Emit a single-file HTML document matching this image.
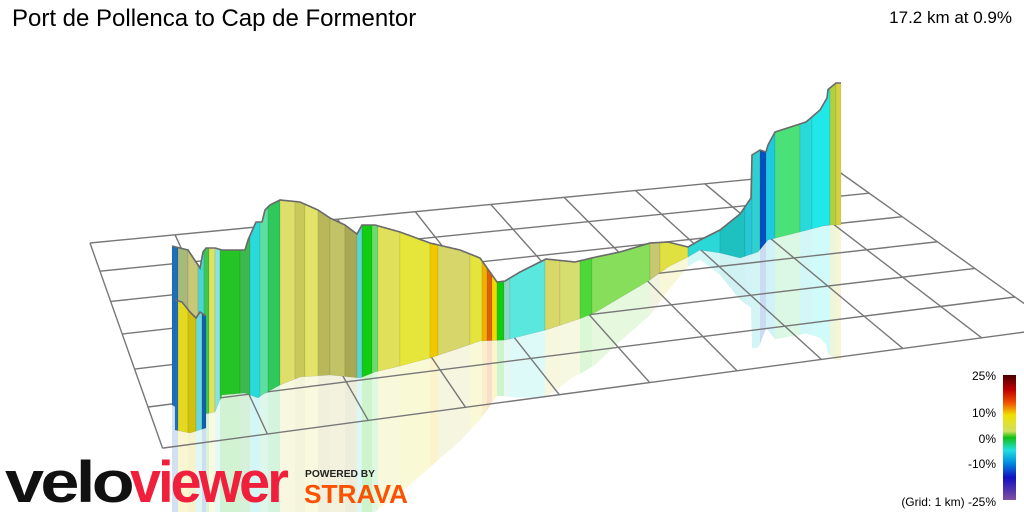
<!DOCTYPE html>
<html><head><meta charset="utf-8">
<style>
html,body{margin:0;padding:0;background:#fff;}
#c{position:relative;width:1024px;height:512px;overflow:hidden;font-family:"Liberation Sans",sans-serif;}
.t{position:absolute;color:#000;white-space:nowrap;}
</style></head><body>
<div id="c">
<svg id="s" width="1024" height="512" viewBox="0 0 1024 512" xmlns="http://www.w3.org/2000/svg" style="position:absolute;left:0;top:0">
<defs>
<linearGradient id="lg" x1="0" y1="0" x2="0" y2="1">
<stop offset="0" stop-color="#4a0000"/>
<stop offset="0.12" stop-color="#c00000"/>
<stop offset="0.22" stop-color="#f05000"/>
<stop offset="0.32" stop-color="#f0e000"/>
<stop offset="0.45" stop-color="#d0e060"/>
<stop offset="0.5" stop-color="#10c010"/>
<stop offset="0.6" stop-color="#20e0e0"/>
<stop offset="0.7" stop-color="#0090e0"/>
<stop offset="0.82" stop-color="#1010c0"/>
<stop offset="1" stop-color="#8050a0"/>
</linearGradient>
</defs>
<g id="refl" opacity="0.2"></g>
<g id="grid" stroke="#777" stroke-width="1.4" fill="none"></g>
<g id="wall"></g>
<rect x="1003" y="375" width="13" height="125" fill="url(#lg)"/>
<g font-family="Liberation Sans, sans-serif" font-size="12" fill="#000" text-anchor="end">
<text x="996" y="380">25%</text>
<text x="996" y="417">10%</text>
<text x="996" y="443">0%</text>
<text x="996" y="468">-10%</text>
<text x="996" y="506">(Grid: 1 km) -25%</text>
</g>
<text x="5" y="502" font-family="Liberation Sans, sans-serif" font-weight="bold" font-size="58" textLength="126" lengthAdjust="spacingAndGlyphs" fill="#111" letter-spacing="-3">velo</text>
<text x="130" y="502" font-family="Liberation Sans, sans-serif" font-weight="bold" font-size="58" textLength="156" lengthAdjust="spacingAndGlyphs" fill="#f0203c" letter-spacing="-3">viewer</text>
<text x="305" y="477" font-family="Liberation Sans, sans-serif" font-weight="bold" font-size="10" textLength="70" lengthAdjust="spacingAndGlyphs" fill="#222">POWERED BY</text>
<text x="304" y="503" font-family="Liberation Sans, sans-serif" font-weight="bold" font-size="26" textLength="104" lengthAdjust="spacingAndGlyphs" fill="#fc5200">STRAVA</text>
</svg>
<div class="t" style="left:12px;top:5px;font-size:24px;">Port de Pollenca to Cap de Formentor</div>
<div class="t" style="right:12px;top:8px;font-size:17px;">17.2 km at 0.9%</div>
</div>
<script>
(function(){
var NS="http://www.w3.org/2000/svg";
function el(p,tag,a){var e=document.createElementNS(NS,tag);for(var k in a)e.setAttribute(k,a[k]);p.appendChild(e);return e;}
// homography
var src=[[0,0],[10,0],[0,5],[10,5]],dst=[[90,243],[838,171],[148,407],[1015,297]];
var A=[],b=[];
for(var i=0;i<4;i++){var x=src[i][0],y=src[i][1],X=dst[i][0],Y=dst[i][1];
A.push([x,y,1,0,0,0,-x*X,-y*X]);b.push(X);
A.push([0,0,0,x,y,1,-x*Y,-y*Y]);b.push(Y);}
var n=8;for(var c=0;c<n;c++){var m=c;for(var r=c+1;r<n;r++)if(Math.abs(A[r][c])>Math.abs(A[m][c]))m=r;
var t=A[c];A[c]=A[m];A[m]=t;t=b[c];b[c]=b[m];b[m]=t;
for(var r=0;r<n;r++){if(r==c)continue;var f=A[r][c]/A[c][c];for(var k=c;k<n;k++)A[r][k]-=f*A[c][k];b[r]-=f*b[c];}}
var h=[];for(var i=0;i<n;i++)h.push(b[i]/A[i][i]);
function P(u,v){var w=h[6]*u+h[7]*v+1;return [(h[0]*u+h[1]*v+h[2])/w,(h[3]*u+h[4]*v+h[5])/w];}
var g=document.getElementById('grid');
for(var v=0;v<=6;v++){var a=P(0,v),e=P(10,v);el(g,'line',{x1:a[0],y1:a[1],x2:e[0],y2:e[1]});}
for(var u=0;u<=10;u++){var a=P(u,0),e=P(u,6);el(g,'line',{x1:a[0],y1:a[1],x2:e[0],y2:e[1]});}
function interp(pts,x){if(x<=pts[0][0])return pts[0][1];for(var i=1;i<pts.length;i++){if(x<=pts[i][0]){var a=pts[i-1],bb=pts[i];if(bb[0]==a[0])return bb[1];return a[1]+(bb[1]-a[1])*(x-a[0])/(bb[0]-a[0]);}}return pts[pts.length-1][1];}
var wall=document.getElementById('wall'),refl=document.getElementById('refl');
function drawWall(top,bot,cols){
 for(var i=0;i<cols.length;i++){var x0=cols[i][0],x1=cols[i][1],col=cols[i][2];
  var pts=[],rp=[];var xs=[];for(var x=x0;x<x1;x+=2)xs.push(x);xs.push(x1);
  var tp=[],bp=[];xs.forEach(function(x){tp.push([x,interp(top,x)]);bp.push([x,interp(bot,x)]);});
  var d='M'+tp.map(function(p){return p[0]+','+p[1];}).join(' L')+' L'+bp.slice().reverse().map(function(p){return p[0]+','+p[1];}).join(' L')+'Z';
  el(wall,'path',{d:d,fill:col,stroke:'rgba(0,0,0,0.12)','stroke-width':'0.6'});
  var rd='M'+bp.map(function(p){return p[0]+','+p[1];}).join(' L')+' L'+bp.slice().reverse().map(function(p,j){var tt=interp(top,p[0]);return p[0]+','+(p[1]+(p[1]-tt)*0.95);}).join(' L')+'Z';
  el(refl,'path',{d:rd,fill:col});
 }
 var x0=cols[0][0],x1=cols[cols.length-1][1],d='';
 for(var x=x0;x<=x1;x+=1)d+=(x==x0?'M':'L')+x+','+interp(top,x)+' ';
 el(wall,'path',{d:d,fill:'none',stroke:'#6a6a6a','stroke-width':'1.6'});
}
var top=[[172,246],[180,248],[188,250],[196,262],[200,268],[203,252],[206,248],[215,248],[222,250],[245,250],[248,240],[256,222],[262,222],[265,210],[270,205],[280,200],[300,202],[318,210],[330,218],[345,225],[357,234],[362,225],[375,225],[400,232],[430,243],[460,250],[480,258],[490,272],[497,282],[505,281],[520,272],[546,259],[575,262],[596,257],[620,252],[650,243],[668,242],[688,247],[700,240],[720,230],[740,214],[751,198],[752,155],[760,150],[766,152],[768,145],[775,132],[806,122],[820,110],[827,98],[825,92],[836,83],[841,83]];
var bot=[[172,405],[185,412],[200,415],[215,412],[222,395],[245,393],[258,398],[262,395],[280,385],[300,377],[330,375],[360,378],[375,372],[400,366],[430,358],[460,348],[480,341],[506,340],[546,330],[582,318],[596,312],[650,280],[668,267],[688,257],[700,250],[720,253],[740,258],[758,252],[768,240],[800,232],[827,225],[841,225]];
var cols=[[172,178,'#1e6fb5'],[178,188,'#a9b97a'],[188,198,'#c8c878'],[198,204,'#49d6d0'],[204,209,'#3fc64f'],[209,215,'#e2e25a'],[215,220,'#86e3e3'],[220,240,'#25c425'],[240,250,'#3cb94c'],[250,260,'#2ad9d9'],[260,268,'#5ce0a0'],[268,280,'#2ec95a'],[280,295,'#dede6a'],[295,305,'#c9c95a'],[305,318,'#e3e36a'],[318,330,'#b8b85a'],[330,345,'#c2c266'],[345,357,'#a9a954'],[357,362,'#58d6d6'],[362,372,'#12cc12'],[372,378,'#6bdb6b'],[378,400,'#e0e05a'],[400,430,'#e6e63a'],[430,438,'#f0c800'],[438,470,'#d6d66a'],[470,482,'#e4e43c'],[482,487,'#f0b000'],[487,492,'#e06000'],[492,497,'#f0d800'],[497,504,'#12cc12'],[504,510,'#8ad8c8'],[510,545,'#5ae8de'],[545,560,'#d8d868'],[560,580,'#d6de70'],[580,592,'#4cd838'],[592,650,'#86de5a'],[650,660,'#c8c870'],[660,688,'#e0e040'],[688,720,'#2ad8d8'],[720,745,'#1ec0c0'],[745,752,'#28c8d8'],[752,760,'#30d0d0'],[760,766,'#0050c0'],[766,775,'#1ec8e0'],[775,800,'#4ce078'],[800,812,'#2adada'],[812,830,'#20e8e8'],[830,836,'#b0d040'],[836,841,'#d8d040']];
drawWall(top,bot,cols);
// front folded piece on left
var top2=[[175,300],[182,302],[190,312],[196,318],[200,312],[206,316]];
var bot2=[[175,430],[190,433],[206,428]];
drawWall(top2,bot2,[[175,178,'#2070c0'],[178,188,'#e4d820'],[188,196,'#d0c010'],[196,202,'#6ad8d8'],[202,206,'#1060b0']]);
})();
</script>
</body></html>
